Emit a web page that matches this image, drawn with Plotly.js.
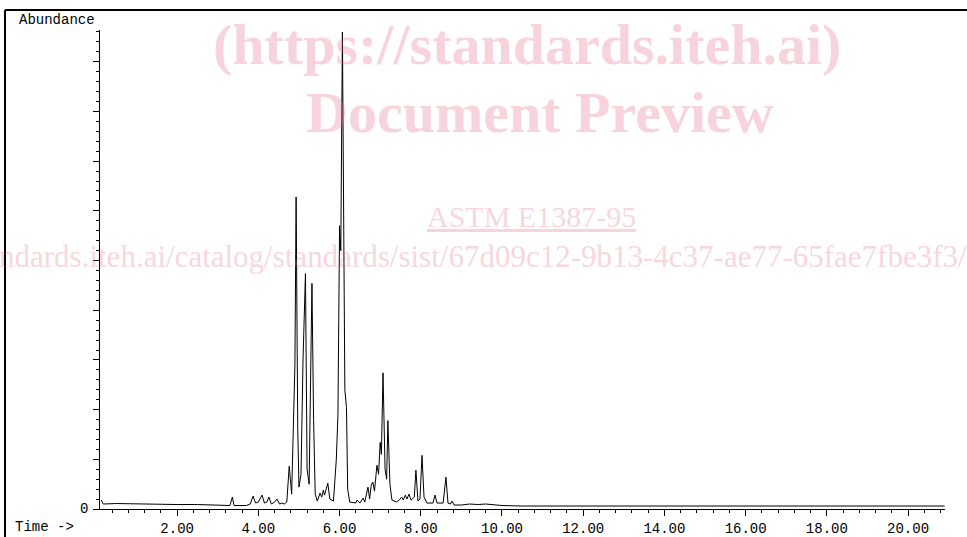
<!DOCTYPE html>
<html>
<head>
<meta charset="utf-8">
<script src="https://cdn.plot.ly/plotly-3.0.1.min.js"></script>
<style>
html,body{margin:0;padding:0;background:#fff;}
#chart{width:967px;height:537px;}
</style>
</head>
<body>
<div id="chart"></div>
<script>
// Retention time (min) and abundance (relative units)
const timeMin = [
  0.13, 0.18, 0.5, 1.0, 1.5, 2.0, 2.5, 3.0, 3.3, 3.36, 3.4, 3.7,
  3.8, 3.87, 3.93, 4.0, 4.09, 4.15, 4.21, 4.26, 4.32, 4.4, 4.46, 4.52, 4.58, 4.64, 4.7,
  4.76, 4.82, 4.9, 4.93, 4.97, 5.0, 5.05, 5.1, 5.16, 5.2, 5.25, 5.29, 5.32, 5.36, 5.4,
  5.45, 5.52, 5.56, 5.6, 5.63, 5.67, 5.71, 5.76, 5.85, 5.92, 5.96, 6.0, 6.03, 6.07, 6.1,
  6.13, 6.17, 6.2, 6.25, 6.4, 6.43, 6.5, 6.58, 6.62, 6.7, 6.74, 6.78, 6.82, 6.86, 6.92,
  6.96, 7.0, 7.03, 7.07, 7.12, 7.16, 7.19, 7.24, 7.29, 7.4, 7.47, 7.53, 7.57, 7.62, 7.66,
  7.71, 7.76, 7.84, 7.88, 7.93, 7.98, 8.03, 8.08, 8.15, 8.3, 8.35, 8.4, 8.55, 8.62, 8.67,
  8.73, 8.77, 8.82, 9.0, 9.2, 9.4, 9.6, 9.8, 10.0, 10.5, 11.0, 12.0, 13.0, 14.0, 15.0,
  16.0, 17.0, 18.0, 19.0, 20.0, 20.9
];
const abundance = [
  0.9, 0.5, 0.55, 0.5, 0.5, 0.45, 0.45, 0.4, 0.35, 1.2, 0.35, 0.35,
  0.5, 1.3, 0.6, 0.7, 1.4, 0.6, 0.7, 1.2, 0.5, 0.7, 1.0, 0.5, 0.6, 0.5, 0.7,
  4.3, 1.5, 14.5, 31.4, 8.0, 2.2, 3.5, 15.0, 23.7, 4.0, 2.5, 15.0, 22.7, 9.0, 1.5,
  0.8, 1.6, 1.2, 1.9, 1.4, 2.1, 2.6, 1.0, 0.8, 5.0, 9.5, 28.5, 26.0, 48.0, 34.0,
  12.0, 10.2, 2.0, 0.7, 0.6, 0.9, 0.6, 1.1, 0.7, 2.2, 1.0, 2.4, 2.7, 1.8, 4.4,
  3.5, 6.7, 5.5, 13.7, 4.0, 3.0, 8.9, 2.5, 0.9, 0.7, 0.9, 1.2, 0.9, 1.4, 1.0,
  1.5, 0.9, 1.2, 3.9, 0.8, 1.0, 5.4, 1.2, 0.6, 0.6, 1.4, 0.6, 0.6, 3.2, 0.6,
  0.5, 0.8, 0.4, 0.4, 0.5, 0.45, 0.5, 0.4, 0.35, 0.3, 0.3, 0.3, 0.25, 0.25, 0.3,
  0.25, 0.25, 0.3, 0.25, 0.3, 0.3
];
const xTickStep = 2;
const xMinorStep = 0.4;
const yMajorStep = 5;
const yMinorStep = 1;

// pixel -> paper helpers for layout placement
const L = 100, R = 945, T = 30, B = 509;
const px = x => (x - L) / (R - L);
const py = y => (B - y) / (B - T);

const wm = 'rgba(230,110,140,0.30)';
const mono = 'Liberation Mono, DejaVu Sans Mono, monospace';
const serif = 'Liberation Serif, Times New Roman, serif';

const trace = {
  x: timeMin, y: abundance, type: 'scatter', mode: 'lines',
  line: {color: '#000', width: 1}, hoverinfo: 'skip', showlegend: false
};

const layout = {
  width: 967, height: 537,
  margin: {l: L, r: 967 - R, t: T, b: 537 - B, pad: 0},
  paper_bgcolor: '#fff', plot_bgcolor: '#fff',
  showlegend: false,
  xaxis: {
    range: [0.1, 20.91], showline: true, linecolor: '#000', linewidth: 1,
    showgrid: false, zeroline: false,
    ticks: 'outside', ticklen: 6, tickwidth: 1, tickcolor: '#000',
    tickmode: 'linear', tick0: 0, dtick: xTickStep, tickformat: '.2f',
    tickfont: {family: mono, size: 14, color: '#000'},
    minor: {ticks: 'outside', tickmode: 'linear', tick0: 0, dtick: xMinorStep, ticklen: 3, tickcolor: '#000', tickwidth: 1, showgrid: false}
  },
  yaxis: {
    range: [0, 48.2], showline: true, linecolor: '#000', linewidth: 1,
    showgrid: false, zeroline: false, showticklabels: false,
    ticks: 'outside', ticklen: 6, tickwidth: 1, tickcolor: '#000',
    tickmode: 'linear', tick0: 0, dtick: yMajorStep,
    minor: {ticks: 'outside', tickmode: 'linear', tick0: 0, dtick: yMinorStep, ticklen: 3, tickcolor: '#000', tickwidth: 1, showgrid: false}
  },
  shapes: [
    {type: 'line', xref: 'paper', yref: 'paper', x0: px(5), x1: px(967), y0: py(10), y1: py(10), line: {color: '#000', width: 2}},
    {type: 'line', xref: 'paper', yref: 'paper', x0: px(5), x1: px(5), y0: py(10), y1: py(537), line: {color: '#000', width: 2}}
  ],
  annotations: [
    {text: 'Abundance', xref: 'paper', yref: 'paper', x: px(17), y: py(20), xanchor: 'left', yanchor: 'middle', showarrow: false, font: {family: mono, size: 14, color: '#000'}},
    {text: 'Time ->', xref: 'paper', yref: 'paper', x: px(13), y: py(527), xanchor: 'left', yanchor: 'middle', showarrow: false, font: {family: mono, size: 14, color: '#000'}},
    {text: '0', xref: 'paper', yref: 'paper', x: px(90), y: py(509), xanchor: 'right', yanchor: 'middle', showarrow: false, font: {family: mono, size: 14, color: '#000'}},
    {text: '<b>(https://standards.iteh.ai)</b>', xref: 'paper', yref: 'paper', x: px(527), y: py(45), xanchor: 'center', yanchor: 'middle', showarrow: false, font: {family: serif, size: 58, color: wm}},
    {text: '<b>Document Preview</b>', xref: 'paper', yref: 'paper', x: px(540), y: py(113), xanchor: 'center', yanchor: 'middle', showarrow: false, font: {family: serif, size: 58, color: wm}},
    {text: '<u>ASTM E1387-95</u>', xref: 'paper', yref: 'paper', x: px(531), y: py(216), xanchor: 'center', yanchor: 'middle', showarrow: false, font: {family: serif, size: 30, color: wm}},
    {text: 'ndards.iteh.ai/catalog/standards/sist/67d09c12-9b13-4c37-ae77-65fae7fbe3f3/', xref: 'paper', yref: 'paper', x: px(-3), y: py(256), xanchor: 'left', yanchor: 'middle', showarrow: false, font: {family: serif, size: 31, color: wm}}
  ]
};

Plotly.newPlot('chart', [trace], layout, {displayModeBar: false, staticPlot: true});
</script>
</body>
</html>
